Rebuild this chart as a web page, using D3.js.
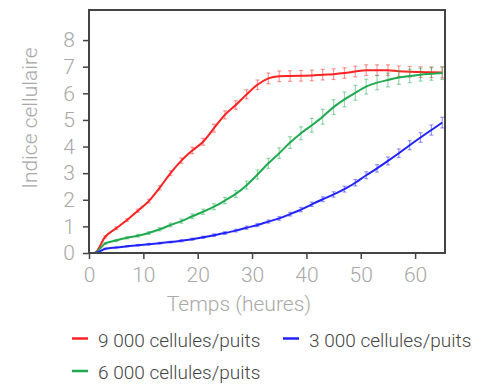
<!DOCTYPE html>
<html lang="fr">
<head>
<meta charset="UTF-8" />
<title>Indice cellulaire</title>
<script src="https://d3js.org/d3.v7.js"></script>
<style>
  body { margin: 0; background: #fff; }
  text { font-family: Roboto, "Noto Sans", sans-serif; font-weight: 300; }
</style>
</head>
<body>
<script>
    var w = 483;
    var h = 384;

    // hours measured (every 2 h)
    var hours = [0,1,3,5,7,9,11,13,15,17,19,21,23,25,27,29,31,33,35,37,39,41,43,45,47,49,51,53,55,57,59,61,63,65];

    var red = [0,0,0.61,0.93,1.24,1.59,1.95,2.45,3.0,3.47,3.85,4.18,4.69,5.19,5.56,5.96,6.32,6.56,6.64,6.65,6.66,6.67,6.7,6.72,6.76,6.82,6.87,6.87,6.87,6.83,6.81,6.8,6.79,6.78];
    var redErr = [0,0,0.04,0.05,0.05,0.06,0.07,0.08,0.09,0.1,0.12,0.13,0.15,0.15,0.16,0.17,0.18,0.2,0.2,0.2,0.2,0.2,0.2,0.2,0.2,0.2,0.2,0.2,0.2,0.2,0.2,0.2,0.2,0.2];

    var green = [0,0,0.36,0.47,0.57,0.65,0.75,0.89,1.05,1.2,1.38,1.55,1.74,1.97,2.22,2.55,2.95,3.37,3.75,4.15,4.5,4.8,5.12,5.48,5.77,6.02,6.25,6.4,6.5,6.59,6.65,6.7,6.73,6.76];
    var greenErr = [0,0,0.03,0.04,0.04,0.05,0.05,0.06,0.07,0.08,0.09,0.1,0.11,0.12,0.13,0.15,0.17,0.19,0.2,0.22,0.24,0.26,0.28,0.28,0.28,0.28,0.28,0.27,0.26,0.25,0.25,0.24,0.24,0.24];

    var blue = [0,0,0.16,0.21,0.25,0.29,0.33,0.37,0.41,0.46,0.52,0.59,0.67,0.75,0.84,0.95,1.05,1.18,1.3,1.46,1.63,1.83,2.02,2.2,2.4,2.64,2.92,3.18,3.46,3.75,4.05,4.34,4.62,4.9];
    var blueErr = [0,0,0.02,0.02,0.02,0.03,0.03,0.03,0.03,0.04,0.04,0.04,0.05,0.05,0.05,0.06,0.06,0.06,0.07,0.07,0.08,0.08,0.09,0.1,0.11,0.12,0.13,0.14,0.15,0.16,0.17,0.18,0.19,0.2];

    var xTicks = [0,10,20,30,40,50,60];
    var yTicks = [0,1,2,3,4,5,6,7,8];

    var series = [
        {name: "9 000 cellules/puits", color: "#ff2222", values: red, err: redErr},
        {name: "6 000 cellules/puits", color: "#1faa4f", values: green, err: greenErr},
        {name: "3 000 cellules/puits", color: "#2222ff", values: blue, err: blueErr}
    ];

    var plotL = 89, plotR = 445, plotT = 10, plotB = 253;

    var svg = d3.select("body")
                .append("svg")
                .attr("width", w)
                .attr("height", h);

    var xScale = d3.scaleLinear()
        .domain([0, 65.5])
        .range([plotL, plotR]);

    var yScale = d3.scaleLinear()
        .domain([0, 9.13])
        .range([plotB, plotT]);

    var plot = svg.append("g");

    // lines, then error bars on top (semi-transparent)
    var line = d3.line()
        .x(function(d){ return xScale(d[0]); })
        .y(function(d){ return yScale(d[1]); })
        .curve(d3.curveMonotoneX);

    series.forEach(function(s){
        var pts = hours.map(function(hr, i){ return [hr, s.values[i], s.err[i]]; });
        plot.append("path")
            .datum(pts)
            .attr("fill", "none")
            .attr("stroke", s.color)
            .attr("stroke-width", 2)
            .attr("d", line);
        var eb = plot.append("g")
            .attr("stroke", s.color)
            .attr("stroke-opacity", 0.45)
            .attr("stroke-width", 1.2);
        pts.filter(function(d){ return d[0] >= 3; }).forEach(function(d){
            var x = xScale(d[0]);
            var y1 = yScale(d[1] - d[2]), y2 = yScale(d[1] + d[2]);
            eb.append("line").attr("x1", x).attr("x2", x).attr("y1", y1).attr("y2", y2);
            eb.append("line").attr("x1", x - 2).attr("x2", x + 2).attr("y1", y1).attr("y2", y1);
            eb.append("line").attr("x1", x - 2).attr("x2", x + 2).attr("y1", y2).attr("y2", y2);
        });
    });

    // frame
    svg.append("rect")
        .attr("x", plotL).attr("y", plotT)
        .attr("width", plotR - plotL).attr("height", plotB - plotT)
        .attr("fill", "none")
        .attr("stroke", "#444")
        .attr("stroke-width", 2);

    var xAxis = svg.append("g")
        .attr("transform", "translate(0," + plotB + ")")
        .call(d3.axisBottom(xScale).tickValues(xTicks).tickSize(6).tickPadding(8));
    var yAxis = svg.append("g")
        .attr("transform", "translate(" + plotL + ",0)")
        .call(d3.axisLeft(yScale).tickValues(yTicks).tickSize(6).tickPadding(8));

    [xAxis, yAxis].forEach(function(a){
        a.select(".domain").remove();
        a.selectAll(".tick line").attr("stroke", "#444").attr("stroke-width", 1.5);
        a.selectAll(".tick text")
            .attr("fill", "#a8a8a8")
            .style("font-size", "21px")
            .style("font-family", "Roboto, sans-serif")
            .style("font-weight", "300");
    });

    svg.append("text")
        .attr("x", 239).attr("y", 311)
        .attr("text-anchor", "middle")
        .attr("fill", "#a8a8a8")
        .style("font-size", "21px")
        .text("Temps (heures)");

    svg.append("text")
        .attr("transform", "translate(37,118) rotate(-90)")
        .attr("text-anchor", "middle")
        .attr("fill", "#a8a8a8")
        .style("font-size", "21px")
        .text("Indice cellulaire");

    // legend
    var legendPos = [[72, 338.5], [72, 371], [283, 338.5]];
    series.forEach(function(s, i){
        var p = legendPos[i];
        svg.append("line")
            .attr("x1", p[0]).attr("x2", p[0] + 16)
            .attr("y1", p[1]).attr("y2", p[1])
            .attr("stroke", s.color).attr("stroke-width", 2.5);
        svg.append("text")
            .attr("x", p[0] + 26).attr("y", p[1] + 8)
            .attr("fill", "#444")
            .style("font-size", "19px")
            .text(s.name);
    });
</script>
</body>
</html>
